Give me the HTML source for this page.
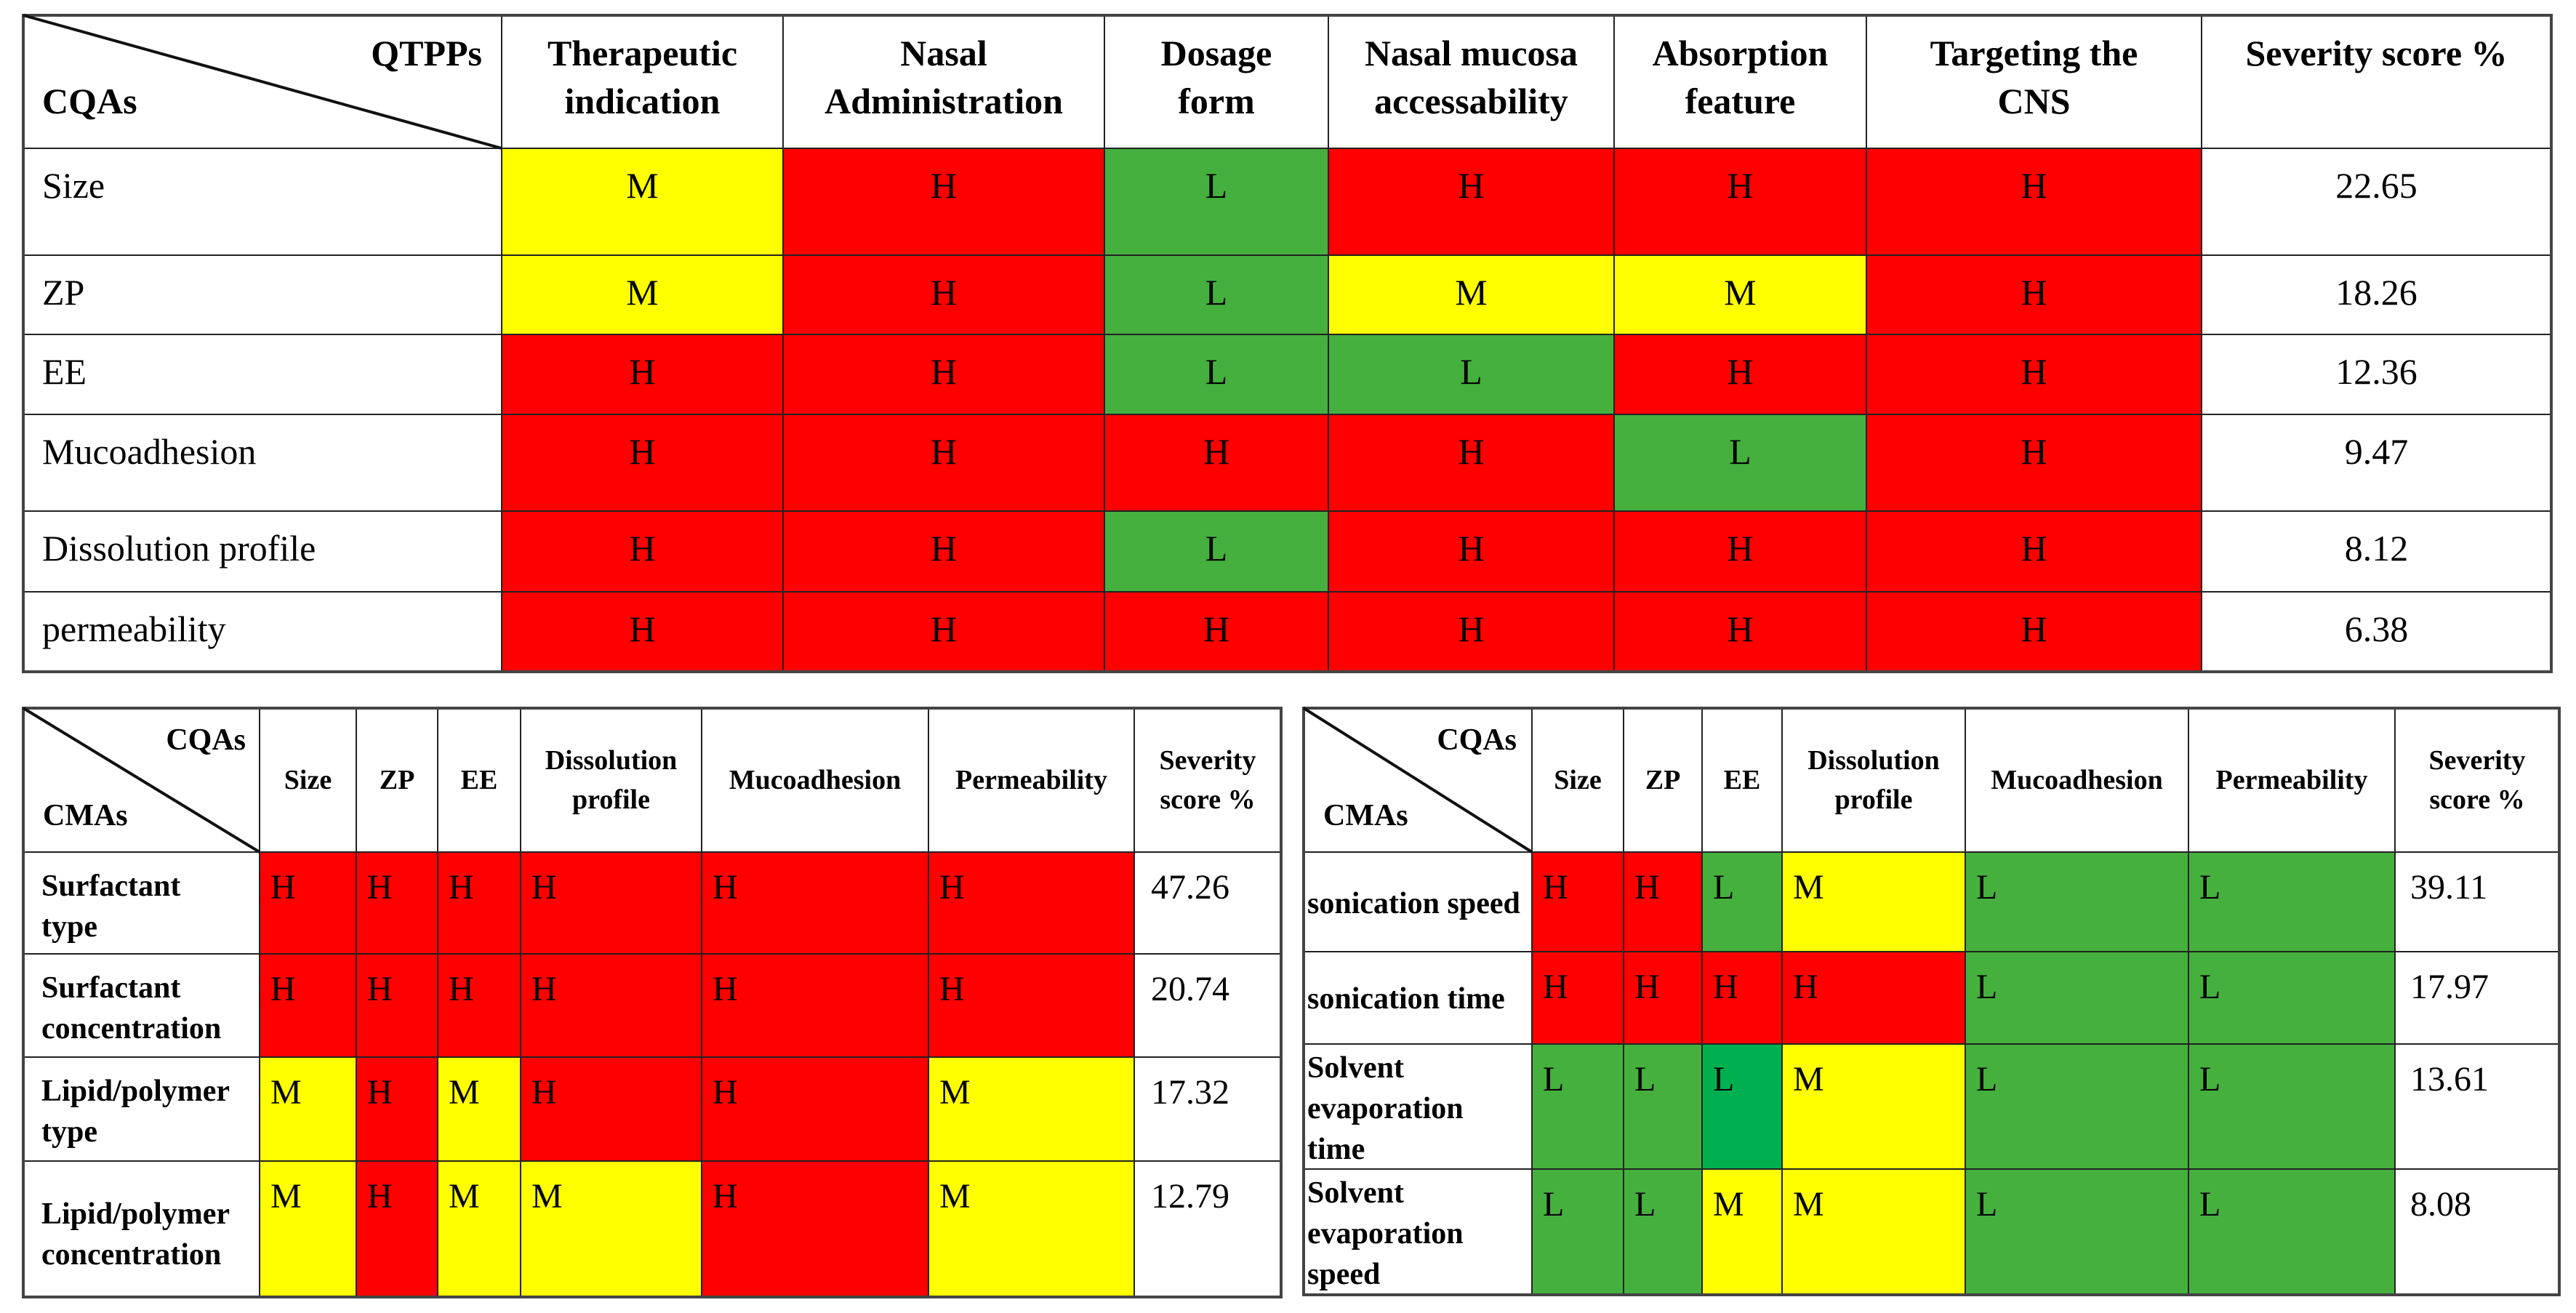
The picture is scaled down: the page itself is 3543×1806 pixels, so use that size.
<!DOCTYPE html>
<html><head><meta charset="utf-8">
<style>
html,body{margin:0;padding:0;background:#fff;}
body{width:3543px;height:1806px;position:relative;overflow:hidden;font-family:"Liberation Serif",serif;color:#000;}
.cell{position:absolute;box-sizing:border-box;border:1.5px solid #222;overflow:visible;white-space:nowrap;}
.tbl{position:absolute;border:4px solid #444;box-sizing:border-box;pointer-events:none;}
.t{position:absolute;}
#diag{z-index:10;}
</style></head>
<body>
<svg id="diag" width="3543" height="1806" style="position:absolute;left:0;top:0;pointer-events:none"></svg>
<script>
// ---- Table 1: CQAs vs QTPPs ----
const t1Headers = ["Therapeutic<br>indication","Nasal<br>Administration","Dosage<br>form","Nasal mucosa<br>accessability","Absorption<br>feature","Targeting the<br>CNS","Severity score %"];
const t1Rows = ["Size","ZP","EE","Mucoadhesion","Dissolution profile","permeability"];
const t1Values = [
 ["M","H","L","H","H","H"],
 ["M","H","L","M","M","H"],
 ["H","H","L","L","H","H"],
 ["H","H","H","H","L","H"],
 ["H","H","L","H","H","H"],
 ["H","H","H","H","H","H"]];
const t1Scores = ["22.65","18.26","12.36","9.47","8.12","6.38"];

// ---- Table 2: CMAs (surfactant / lipid) ----
const t2Headers = ["Size","ZP","EE","Dissolution<br>profile","Mucoadhesion","Permeability","Severity<br>score %"];
const t2Rows = ["Surfactant<br>type","Surfactant<br>concentration","Lipid/polymer<br>type","Lipid/polymer<br>concentration"];
const t2Values = [
 ["H","H","H","H","H","H"],
 ["H","H","H","H","H","H"],
 ["M","H","M","H","H","M"],
 ["M","H","M","M","H","M"]];
const t2Scores = ["47.26","20.74","17.32","12.79"];

// ---- Table 3: CMAs (process) ----
const t3Headers = ["Size","ZP","EE","Dissolution<br>profile","Mucoadhesion","Permeability","Severity<br>score %"];
const t3Rows = ["sonication speed","sonication time","Solvent<br>evaporation<br>time","Solvent<br>evaporation<br>speed"];
const t3Values = [
 ["H","H","L","M","L","L"],
 ["H","H","H","H","L","L"],
 ["L","L","L2","M","L","L"],
 ["L","L","M","M","L","L"]];
const t3Scores = ["39.11","17.97","13.61","8.08"];

const colorOf = {H:"#ff0000",M:"#ffff00",L:"#45b03d",L2:"#00b050"};

function cell(x0,y0,x1,y1,bg,html,style,name){
  const d=document.createElement('div');
  d.className='cell';
  d.style.left=x0+'px';d.style.top=y0+'px';d.style.width=(x1-x0)+'px';d.style.height=(y1-y0)+'px';
  d.style.background=bg;
  d.innerHTML=html;
  Object.assign(d.style,style||{});
  
  
  document.body.appendChild(d);
  return d;
}
function diag(x0,y0,x1,y1){
  const l=document.createElementNS('http://www.w3.org/2000/svg','line');
  l.setAttribute('x1',x0);l.setAttribute('y1',y0);l.setAttribute('x2',x1);l.setAttribute('y2',y1);
  l.setAttribute('stroke','#111');l.setAttribute('stroke-width','4');
  
  
  document.getElementById('diag').appendChild(l);
}
function frame(x0,y0,x1,y1,name){
  const d=document.createElement('div');d.className='tbl';
  d.style.left=(x0-2)+'px';d.style.top=(y0-2)+'px';d.style.width=(x1-x0+4)+'px';d.style.height=(y1-y0+4)+'px';
  
  
  document.body.appendChild(d);
}

function build(cfg){
  const {cols,rows,headers,labels,values,scores,corner,hStyle,vStyle,lStyle,sStyle,prefix}=cfg;
  const c=cell(cols[0],rows[0],cols[1],rows[1],'#fff','',{},prefix+'-corner-cell');
  const tr=document.createElement('div');tr.className='t';tr.innerHTML=corner[0];
  Object.assign(tr.style,cfg.cornerTR);c.appendChild(tr);
  const bl=document.createElement('div');bl.className='t';bl.innerHTML=corner[1];
  Object.assign(bl.style,cfg.cornerBL);c.appendChild(bl);
  diag(cols[0],rows[0],cols[1],rows[1]);
  headers.forEach((h,i)=>{
    cell(cols[i+1],rows[0],cols[i+2],rows[1],'#fff',h,hStyle,prefix+'-column-header');
  });
  labels.forEach((lab,r)=>{
    cell(cols[0],rows[r+1],cols[1],rows[r+2],'#fff',lab,Object.assign({},lStyle,(cfg.lRow&&cfg.lRow[r])||{}),prefix+'-row-label');
    values[r].forEach((v,k)=>{
      cell(cols[k+1],rows[r+1],cols[k+2],rows[r+2],colorOf[v],v.charAt(0),vStyle,prefix+'-rating-cell');
    });
    cell(cols[cols.length-2],rows[r+1],cols[cols.length-1],rows[r+2],'#fff',scores[r],sStyle,prefix+'-severity-score');
  });
  frame(cols[0],rows[0],cols[cols.length-1],rows[rows.length-1],prefix+'-table');
}

build({prefix:'qtpp',
  cols:[32,690,1077,1519,1827,2220,2567,3028,3509],
  rows:[21,204,351,460,570,703,814,924],
  headers:t1Headers,labels:t1Rows,values:t1Values,scores:t1Scores,
  corner:["QTPPs","CQAs"],
  cornerTR:{right:'26px',top:'18px',font:'bold 50px "Liberation Serif",serif',lineHeight:'66px'},
  cornerBL:{left:'25px',top:'84px',font:'bold 50px "Liberation Serif",serif',lineHeight:'66px'},
  hStyle:{font:'bold 50px "Liberation Serif",serif',lineHeight:'66px',textAlign:'center',paddingTop:'18px'},
  vStyle:{font:'50px "Liberation Serif",serif',lineHeight:'60px',textAlign:'center',paddingTop:'20px'},
  lStyle:{font:'50px "Liberation Serif",serif',lineHeight:'60px',paddingLeft:'25px',paddingTop:'20px'},
  sStyle:{font:'50px "Liberation Serif",serif',lineHeight:'60px',textAlign:'center',paddingTop:'20px'}
});

build({prefix:'formulation-cma',
  cols:[32,357,490,602,716,965,1277,1560,1762],
  rows:[974,1172,1312,1454,1597,1784],
  headers:t2Headers,labels:t2Rows,values:t2Values,scores:t2Scores,
  corner:["CQAs","CMAs"],
  cornerTR:{right:'18px',top:'16px',font:'bold 42px "Liberation Serif",serif',lineHeight:'54px'},
  cornerBL:{left:'26px',top:'120px',font:'bold 42px "Liberation Serif",serif',lineHeight:'54px'},
  hStyle:{font:'bold 38px "Liberation Serif",serif',lineHeight:'54px',textAlign:'center',display:'flex',alignItems:'center',justifyContent:'center',whiteSpace:'nowrap'},
  vStyle:{font:'48px "Liberation Serif",serif',lineHeight:'56px',paddingLeft:'14px',paddingTop:'20px'},
  lStyle:{font:'bold 42px "Liberation Serif",serif',lineHeight:'56px',paddingLeft:'24px',paddingTop:'18px'},
  lRow:[{},{},{},{paddingTop:'44px'}],
  sStyle:{font:'48px "Liberation Serif",serif',lineHeight:'56px',paddingLeft:'22px',paddingTop:'20px'}
});

build({prefix:'process-cma',
  cols:[1793,2107,2233,2341,2451,2703,3010,3294,3520],
  rows:[974,1172,1309,1436,1608,1781],
  headers:t3Headers,labels:t3Rows,values:t3Values,scores:t3Scores,
  corner:["CQAs","CMAs"],
  cornerTR:{right:'20px',top:'16px',font:'bold 42px "Liberation Serif",serif',lineHeight:'54px'},
  cornerBL:{left:'26px',top:'120px',font:'bold 42px "Liberation Serif",serif',lineHeight:'54px'},
  hStyle:{font:'bold 38px "Liberation Serif",serif',lineHeight:'54px',textAlign:'center',display:'flex',alignItems:'center',justifyContent:'center',whiteSpace:'nowrap'},
  vStyle:{font:'48px "Liberation Serif",serif',lineHeight:'56px',paddingLeft:'14px',paddingTop:'20px'},
  lStyle:{font:'bold 42px "Liberation Serif",serif',lineHeight:'56px',paddingLeft:'4px',paddingTop:'4px'},
  lRow:[{paddingTop:'42px'},{paddingTop:'36px'},{},{}],
  sStyle:{font:'48px "Liberation Serif",serif',lineHeight:'56px',paddingLeft:'20px',paddingTop:'20px'}
});
</script>
</body></html>
